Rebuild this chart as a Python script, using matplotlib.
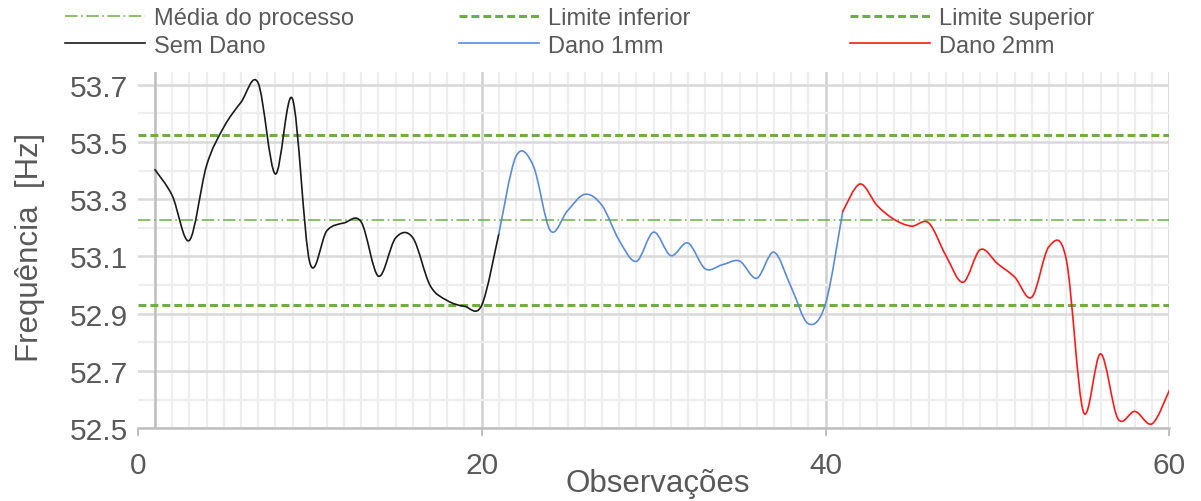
import matplotlib
matplotlib.use("Agg")
import matplotlib.pyplot as plt
import numpy as np
from matplotlib.path import Path
from matplotlib.patches import PathPatch
from matplotlib.lines import Line2D
from matplotlib.ticker import MultipleLocator, FixedLocator

plt.rcParams['font.family'] = ['Liberation Sans', 'DejaVu Sans']

# ---- data -------------------------------------------------------------
obs_sem_dano = list(range(1, 22))
sem_dano = [53.403, 53.313, 53.156, 53.417, 53.551, 53.638, 53.706, 53.388,
            53.650, 53.080, 53.190, 53.217, 53.220, 53.031, 53.165, 53.165,
            52.999, 52.946, 52.926, 52.929, 53.179]

obs_dano_1mm = list(range(21, 42))
dano_1mm = [53.179, 53.450, 53.417, 53.190, 53.260, 53.317, 53.278, 53.156,
            53.083, 53.185, 53.103, 53.147, 53.057, 53.071, 53.084, 53.024,
            53.115, 52.993, 52.865, 52.935, 53.257]

obs_dano_2mm = list(range(41, 61))
dano_2mm = [53.257, 53.353, 53.278, 53.229, 53.206, 53.217, 53.103, 53.010,
            53.124, 53.075, 53.028, 52.958, 53.135, 53.090, 52.557, 52.760,
            52.534, 52.559, 52.516, 52.633]

media_processo = 53.228
limite_inferior = 52.932
limite_superior = 53.524

x_ticks = [0, 20, 40, 60]
y_ticks = [52.5, 52.7, 52.9, 53.1, 53.3, 53.5, 53.7]
y_tick_labels = ["52.5", "52.7", "52.9", "53.1", "53.3", "53.5", "53.7"]

x_label = "Observações"
y_label = "Frequência  [Hz]"
legend_cols = [["Média do processo", "Sem Dano"],
               ["Limite inferior", "Dano 1mm"],
               ["Limite superior", "Dano 2mm"]]

# ---- style --------------------------------------------------------------
TEXT = '#595959'
GREEN = '#70ad47'
BLUE = '#5b8bd8'
RED = '#ff1a1a'
BLACK = '#1a1a1a'
AXIS_GRAY = '#bfbfbf'
MAJOR_GRID = '#d9d9d9'
MINOR_GRID = '#eeeeee'

LIMIT_STYLE = dict(color=GREEN, lw=2.2, linestyle=(0, (2.6, 1.3)))
MEAN_STYLE = dict(color=GREEN, lw=1.1, linestyle=(0, (8.2, 2.3, 1.1, 2.3)))


def smooth_path(xs, ys):
    """Smoothed polyline (Catmull-Rom as cubic Bezier segments)."""
    pts = np.column_stack([xs, ys]).astype(float)
    ext = np.vstack([pts[0], pts, pts[-1]])
    verts = [pts[0]]
    codes = [Path.MOVETO]
    for i in range(len(pts) - 1):
        p0, p1, p2, p3 = ext[i], ext[i + 1], ext[i + 2], ext[i + 3]
        c1 = p1 + (p2 - p0) / 6.0
        c2 = p2 - (p3 - p1) / 6.0
        verts += [c1, c2, p2]
        codes += [Path.CURVE4] * 3
    return Path(np.array(verts), codes)


fig = plt.figure(figsize=(12.01, 5.02), dpi=100)
ax = fig.add_axes([0.1147, 0.1448, 0.859, 0.7092])

ax.set_xlim(0, 60)
ax.set_ylim(52.5, 53.743)

ax.xaxis.set_major_locator(FixedLocator(x_ticks))
ax.xaxis.set_minor_locator(MultipleLocator(1))
ax.yaxis.set_major_locator(FixedLocator(y_ticks))
ax.yaxis.set_minor_locator(MultipleLocator(0.1))
ax.set_yticklabels(y_tick_labels)

ax.grid(which='major', axis='y', color=MAJOR_GRID, lw=1.8, zorder=0)
ax.grid(which='minor', axis='both', color=MINOR_GRID, lw=1.6, zorder=0)
ax.grid(which='major', axis='x', color='#d0d0d0', lw=1.8, zorder=0)
ax.get_xgridlines()[0].set_visible(False)
ax.set_axisbelow(True)

for side in ('top', 'right', 'left'):
    ax.spines[side].set_visible(False)
ax.spines['bottom'].set_color(AXIS_GRAY)
ax.spines['bottom'].set_linewidth(1.8)

ax.tick_params(axis='y', which='both', length=0, pad=7, labelsize=21.5,
               labelcolor=TEXT)
ax.tick_params(axis='x', which='major', length=6, width=1.4, color=AXIS_GRAY,
               pad=10, labelsize=21.5, labelcolor=TEXT)
ax.tick_params(axis='x', which='minor', length=0)

# vertical value axis crossing at the first observation
ax.axvline(1, color=AXIS_GRAY, lw=1.8, zorder=1)

# control limits
ax.axhline(limite_superior, zorder=2, **LIMIT_STYLE)
ax.axhline(limite_inferior, zorder=2, **LIMIT_STYLE)
ax.axhline(media_processo, zorder=2, **MEAN_STYLE)

# smoothed series
for xs, ys, col in ((obs_sem_dano, sem_dano, BLACK),
                    (obs_dano_1mm, dano_1mm, BLUE),
                    (obs_dano_2mm, dano_2mm, RED)):
    ax.add_patch(PathPatch(smooth_path(xs, ys), fill=False, edgecolor=col,
                           lw=1.2, zorder=3, capstyle='round',
                           joinstyle='round'))

fig.text(30 / 1201, 1 - 247 / 502, y_label, rotation=90, ha='center',
         va='center', fontsize=22.5, color=TEXT)
fig.text(658 / 1201, 1 - 484 / 502, x_label, ha='center', va='center',
         fontsize=22.5, color=TEXT)

# legend, laid out as three columns of two entries
legend_handles = [
    [Line2D([], [], **MEAN_STYLE), Line2D([], [], color=BLACK, lw=1.2)],
    [Line2D([], [], **LIMIT_STYLE), Line2D([], [], color=BLUE, lw=1.2)],
    [Line2D([], [], **LIMIT_STYLE), Line2D([], [], color=RED, lw=1.2)],
]
col_x = [65, 459, 850]
for cx, handles, labels in zip(col_x, legend_handles, legend_cols):
    leg = fig.legend(handles, labels, loc='upper left',
                     bbox_to_anchor=(cx / 1201, 1 - 8 / 502),
                     frameon=False, fontsize=17, handlelength=3.4,
                     handletextpad=0.35, borderpad=0, borderaxespad=0,
                     labelspacing=0.24)
    for t in leg.get_texts():
        t.set_color(TEXT)

fig.savefig('out.png', dpi=100)
